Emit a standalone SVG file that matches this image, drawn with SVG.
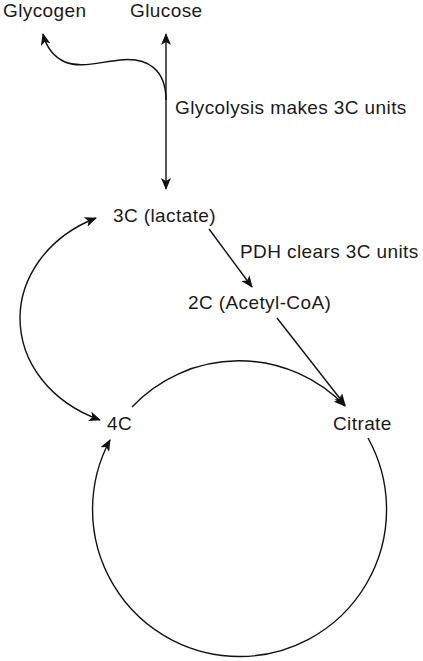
<svg xmlns="http://www.w3.org/2000/svg" width="423" height="661" viewBox="0 0 423 661">
<style>
text{font-family:"Liberation Sans",Arial,sans-serif;font-size:19px;letter-spacing:0.4px;fill:#1a1a1a}
.c{fill:none;stroke:#111;stroke-width:1.4}
</style>
<defs>
<marker id="ah" viewBox="0 0 12 10" refX="11" refY="5" markerWidth="12" markerHeight="10" markerUnits="userSpaceOnUse" orient="auto-start-reverse">
<path d="M0,0 L12,5 L0,10 L3,5 z" fill="#111"/>
</marker>
</defs>
<rect width="423" height="661" fill="#fff"/>
<g id="connectors">
<path class="c" d="M166,34 L166,189" marker-start="url(#ah)" marker-end="url(#ah)"/>
<path class="c" d="M166,100 C166,70 148,57 120,60 C95,63 80,68 65,62 C52,56 46,46 43,34" marker-end="url(#ah)"/>
<path class="c" d="M96,218 C45,238 20,280 20,318 C20,362 50,402 100,420" marker-start="url(#ah)" marker-end="url(#ah)"/>
<path class="c" d="M209,229 L252,287" marker-end="url(#ah)"/>
<path class="c" d="M277,318 L345,405" marker-end="url(#ah)"/>
<path class="c" d="M132,407 A147,147 0 0 1 345,406" marker-end="url(#ah)"/>
<path class="c" d="M368,438 A147,147 0 1 1 110,440" marker-end="url(#ah)"/>
</g>
<g id="glycogen"><text x="3" y="17">Glycogen</text></g>
<g id="glucose"><text x="130" y="17">Glucose</text></g>
<g id="glycolysis-label"><text x="175" y="114">Glycolysis makes 3C units</text></g>
<g id="lactate"><text x="113" y="222">3C (lactate)</text></g>
<g id="pdh-label"><text x="240" y="258">PDH clears 3C units</text></g>
<g id="acetylcoa"><text x="188" y="309">2C (Acetyl-CoA)</text></g>
<g id="c4"><text x="107" y="430">4C</text></g>
<g id="citrate"><text x="333" y="430">Citrate</text></g>
</svg>
